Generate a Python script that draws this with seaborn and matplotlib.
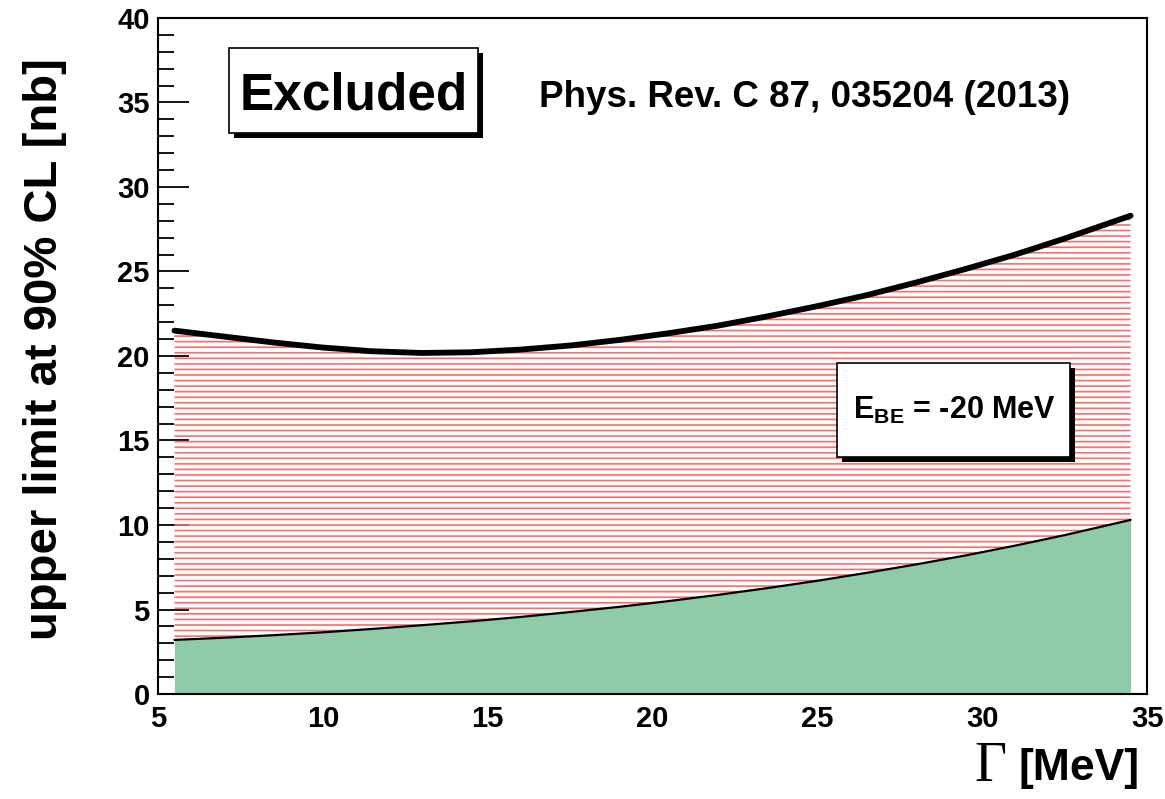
import matplotlib
matplotlib.use("Agg")
import matplotlib.pyplot as plt
import matplotlib.patheffects as pe
from matplotlib.patches import Rectangle
from matplotlib.ticker import MultipleLocator
import seaborn as sns
import pandas as pd

# Data
gamma = [5.5, 7, 8.5, 10, 11.5, 13, 14.5, 16, 17.5, 19, 20.5, 22, 23.5, 25,
         26.5, 28, 29.5, 31, 32.5, 34.5]
upper_limit = [21.5, 21.15, 20.8, 20.5, 20.28, 20.18, 20.22, 20.38, 20.62, 20.95,
               21.35, 21.8, 22.35, 22.95, 23.6, 24.35, 25.15, 26.0, 26.95, 28.3]
lower_limit = [3.2, 3.33, 3.48, 3.65, 3.85, 4.07, 4.3, 4.56, 4.85, 5.16,
               5.5, 5.87, 6.27, 6.7, 7.17, 7.67, 8.2, 8.78, 9.4, 10.3]

df = pd.DataFrame({"gamma": gamma, "upper": upper_limit, "lower": lower_limit})

sns.set_style("ticks")
plt.rcParams["font.family"] = ["Liberation Sans", "DejaVu Sans"]
plt.rcParams["font.weight"] = "bold"
plt.rcParams["mathtext.fontset"] = "custom"
plt.rcParams["mathtext.rm"] = "Liberation Sans:bold"
plt.rcParams["mathtext.bf"] = "Liberation Sans:bold"
plt.rcParams["hatch.linewidth"] = 1.2
for key in ["text.color", "axes.labelcolor", "xtick.color", "ytick.color", "axes.edgecolor"]:
    plt.rcParams[key] = "black"

fig = plt.figure(figsize=(11.65, 7.99), dpi=100)
ax = fig.add_axes([0.1356, 0.1314, 0.849, 0.8461])

# green region below the lower curve
ax.fill_between(df["gamma"], 0, df["lower"], color="#8fcba9", linewidth=0)
# red hatched excluded band
ax.fill_between(df["gamma"], df["lower"], df["upper"], facecolor="none",
                edgecolor="#ff6b6b", hatch="---", linewidth=0)

sns.lineplot(data=df, x="gamma", y="upper", color="black", linewidth=4.2, ax=ax)
sns.lineplot(data=df, x="gamma", y="lower", color="black", linewidth=1.6, ax=ax)

ax.set_xlim(5, 35)
ax.set_ylim(0, 40)
ax.xaxis.set_major_locator(MultipleLocator(5))
ax.yaxis.set_major_locator(MultipleLocator(5))
ax.yaxis.set_minor_locator(MultipleLocator(1))
ax.tick_params(axis="y", which="major", direction="in", length=22, width=1.3,
               labelsize=21, pad=6)
ax.tick_params(axis="y", which="minor", direction="in", length=11.5, width=1.3)
ax.tick_params(axis="x", which="both", length=0, labelsize=21, pad=8)
for lab in ax.get_xticklabels() + ax.get_yticklabels():
    lab.set_fontweight("bold")
for sp in ax.spines.values():
    sp.set_visible(True)
    sp.set_linewidth(1.5)

ax.set_xlabel("")
ax.set_ylabel("upper limit at 90% CL [nb]", fontsize=34, fontweight="bold")
ax.yaxis.set_label_coords(-0.092, 0.51)

fig.text(0.836, 0.008, "Γ", fontsize=40, family="Liberation Serif",
         fontweight="normal", ha="left", va="bottom")
fig.text(0.978, 0.012, "[MeV]", fontsize=32, fontweight="bold",
         ha="right", va="bottom")

shadow = [pe.withSimplePatchShadow(offset=(3.6, -3.6), shadow_rgbFace="black", alpha=1.0)]

box1 = Rectangle((0.0718, 0.8299), 0.2518, 0.1257, transform=ax.transAxes,
                 facecolor="white", edgecolor="black", linewidth=1.2, zorder=5)
box1.set_path_effects(shadow)
ax.add_patch(box1)
ax.text(0.198, 0.8846, "Excluded", transform=ax.transAxes, fontsize=37,
        fontweight="bold", ha="center", va="center", zorder=6)

ax.text(0.385, 0.882, "Phys. Rev. C 87, 035204 (2013)", transform=ax.transAxes,
        fontsize=26.5, fontweight="bold", ha="left", va="center")

box2 = Rectangle((0.6866, 0.3506), 0.2356, 0.139, transform=ax.transAxes,
                 facecolor="white", edgecolor="black", linewidth=1.2, zorder=5)
box2.set_path_effects(shadow)
ax.add_patch(box2)
ax.text(0.8049, 0.42, r"E$_{\rm BE}$ = -20 MeV", transform=ax.transAxes,
        fontsize=22, fontweight="bold", ha="center", va="center", zorder=6)

fig.savefig("out.png", dpi=100)
